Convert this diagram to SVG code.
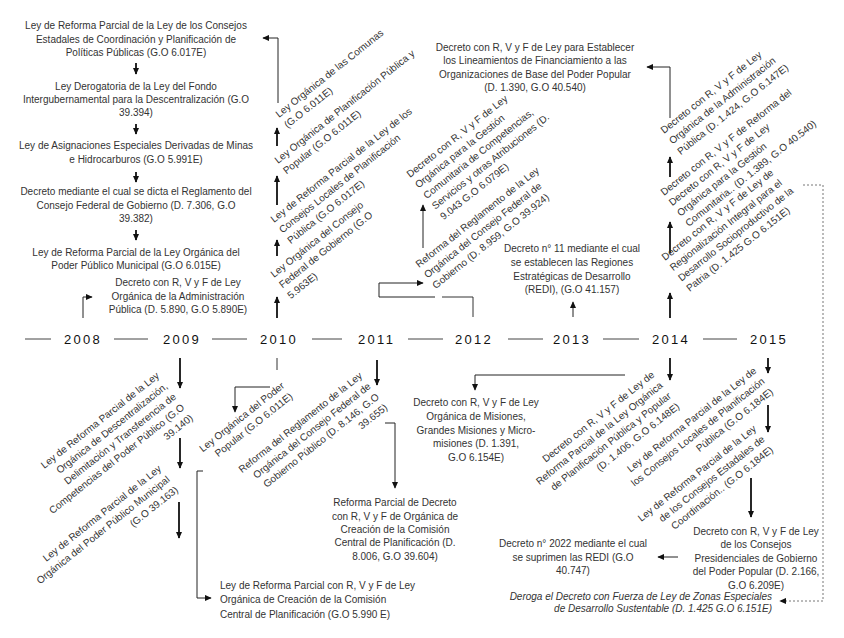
<svg xmlns="http://www.w3.org/2000/svg" width="844" height="638" viewBox="0 0 844 638">
<defs>
<style>
text{font-family:"Liberation Sans",Arial,sans-serif;font-size:10px;fill:#333}
.c{text-anchor:middle}
.e{text-anchor:end}
.it{font-style:italic}
.yr{font-size:13px;letter-spacing:2.3px;fill:#111}
.tl{stroke:#444;stroke-width:1}
.ln{stroke:#333;stroke-width:1;fill:none}
.ar{stroke:#111;stroke-width:1.8;fill:none;marker-end:url(#ah)}
.at{stroke:#222;stroke-width:1;fill:none;marker-end:url(#ah)}
.ds{stroke:#777;stroke-width:1;stroke-dasharray:2,2;fill:none;marker-end:url(#ah)}
</style>
<marker id="ah" viewBox="0 0 10 10" refX="9" refY="5" markerWidth="7" markerHeight="7" markerUnits="userSpaceOnUse" orient="auto"><path d="M0,0.5 L10,5 L0,9.5 z" fill="#111"/></marker>
</defs>

<g id="timeline">
<line class="tl" x1="25" y1="339" x2="51" y2="339"/>
<line class="tl" x1="114" y1="339" x2="148" y2="339"/>
<line class="tl" x1="212" y1="339" x2="247" y2="339"/>
<line class="tl" x1="312" y1="339" x2="342" y2="339"/>
<line class="tl" x1="408" y1="339" x2="443" y2="339"/>
<line class="tl" x1="508" y1="339" x2="543" y2="339"/>
<line class="tl" x1="603" y1="339" x2="639" y2="339"/>
<line class="tl" x1="703" y1="339" x2="737" y2="339"/>
<text class="yr" x="64" y="344">2008</text>
<text class="yr" x="163" y="344">2009</text>
<text class="yr" x="260" y="344">2010</text>
<text class="yr" x="358" y="344">2011</text>
<text class="yr" x="455" y="344">2012</text>
<text class="yr" x="553" y="344">2013</text>
<text class="yr" x="652" y="344">2014</text>
<text class="yr" x="750" y="344">2015</text>
</g>

<g id="connectors">
<line class="ar" x1="136" y1="63" x2="136" y2="74"/>
<line class="ar" x1="136" y1="124" x2="136" y2="134"/>
<line class="ar" x1="136" y1="172" x2="136" y2="182"/>
<line class="ar" x1="136" y1="230" x2="136" y2="240"/>
<path class="at" d="M83,318 V297 H92"/>
<line class="ar" x1="277" y1="146" x2="277" y2="128"/>
<line class="ar" x1="277" y1="205" x2="277" y2="176"/>
<line class="ar" x1="277" y1="256" x2="277" y2="240"/>
<line class="ar" x1="277" y1="318" x2="277" y2="297"/>
<path class="at" d="M278,103 V38 H263"/>
<path class="ln" d="M473,317 V297 H442"/>
<path class="at" d="M435,297 H379 V283 H423"/>
<line class="at" x1="423" y1="248" x2="423" y2="205"/>
<line class="at" x1="573" y1="317" x2="573" y2="302"/>
<line class="ar" x1="670" y1="318" x2="670" y2="293"/>
<line class="ar" x1="670" y1="253" x2="670" y2="222"/>
<line class="ar" x1="670" y1="177" x2="670" y2="157"/>
<path class="at" d="M670,118 V67 H647"/>
<path class="ds" d="M803,185 H823 V601 H780"/>
<line class="ar" x1="180" y1="358" x2="180" y2="388"/>
<line class="ar" x1="180" y1="438" x2="180" y2="468"/>
<line class="ar" x1="179" y1="502" x2="179" y2="538"/>
<path class="at" d="M203,471 H197 V598 H211"/>
<line class="ln" x1="277" y1="358" x2="277" y2="370"/>
<path class="at" d="M270,387 H235 V412"/>
<line class="ar" x1="377" y1="360" x2="377" y2="385"/>
<path class="at" d="M385,423 H395 V488"/>
<path class="at" d="M625,375 H475 V390"/>
<line class="ar" x1="670" y1="358" x2="670" y2="380"/>
<line class="ar" x1="768" y1="358" x2="768" y2="373"/>
<line class="ar" x1="768" y1="405" x2="768" y2="432"/>
<line class="ar" x1="751" y1="478" x2="751" y2="517"/>
<line class="at" x1="678" y1="557" x2="658" y2="557"/>
</g>

<g id="n2008a"><text class="c"><tspan x="136" y="29">Ley de Reforma Parcial de la Ley de los Consejos</tspan><tspan x="136" y="42.5">Estadales de Coordinación y Planificación de</tspan><tspan x="136" y="56">Políticas Públicas (G.O 6.017E)</tspan></text></g>
<g id="n2008b"><text class="c"><tspan x="136" y="89.5">Ley Derogatoria de la Ley del Fondo</tspan><tspan x="136" y="103">Intergubernamental para la Descentralización (G.O</tspan><tspan x="136" y="116">39.394)</tspan></text></g>
<g id="n2008c"><text class="c"><tspan x="136" y="149">Ley de Asignaciones Especiales Derivadas de Minas</tspan><tspan x="136" y="162.5">e Hidrocarburos (G.O 5.991E)</tspan></text></g>
<g id="n2008d"><text class="c"><tspan x="136" y="195">Decreto mediante el cual se dicta el Reglamento del</tspan><tspan x="136" y="208.5">Consejo Federal de Gobierno (D. 7.306, G.O</tspan><tspan x="136" y="221.5">39.382)</tspan></text></g>
<g id="n2008e"><text class="c"><tspan x="136" y="255.5">Ley de Reforma Parcial de la Ley Orgánica del</tspan><tspan x="136" y="268.5">Poder Público Municipal (G.O 6.015E)</tspan></text></g>
<g id="n2008f"><text class="c"><tspan x="178" y="286">Decreto con R, V y F de Ley</tspan><tspan x="178" y="300">Orgánica de la Administración</tspan><tspan x="178" y="313">Pública (D. 5.890, G.O 5.890E)</tspan></text></g>

<g id="n2010a"><text transform="translate(279,118) rotate(-38.5)"><tspan x="0" y="0">Ley Orgánica de las Comunas</tspan><tspan x="0" y="13.5">(G.O 6.011E)</tspan></text></g>
<g id="n2010b"><text transform="translate(278,164) rotate(-38.5)"><tspan x="0" y="0">Ley Orgánica de Planificación Pública y</tspan><tspan x="0" y="13.5">Popular (G.O 6.011E)</tspan></text></g>
<g id="n2010c"><text transform="translate(274,223) rotate(-38.5)"><tspan x="0" y="0">Ley de Reforma Parcial de la Ley de los</tspan><tspan x="0" y="13.5">Consejos Locales de Planificación</tspan><tspan x="0" y="27">Pública (G.O 6.017E)</tspan></text></g>
<g id="n2010d"><text transform="translate(274,278) rotate(-38.5)"><tspan x="0" y="0">Ley Orgánica del Consejo</tspan><tspan x="0" y="13.5">Federal de Gobierno (G.O</tspan><tspan x="0" y="27">5.963E)</tspan></text></g>

<g id="n2012a"><text class="c"><tspan x="535" y="50.5">Decreto con R, V y F de Ley para Establecer</tspan><tspan x="535" y="64">los Lineamientos de Financiamiento a las</tspan><tspan x="535" y="77.5">Organizaciones de Base del Poder Popular</tspan><tspan x="535" y="91">(D. 1.390, G.O 40.540)</tspan></text></g>
<g id="n2012b"><text transform="translate(410,178) rotate(-38.5)"><tspan x="0" y="0">Decreto con R, V y F de Ley</tspan><tspan x="0" y="13.5">Orgánica para la Gestión</tspan><tspan x="0" y="27">Comunitaria de Competencias,</tspan><tspan x="0" y="40.5">Servicios y otras Atribuciones (D.</tspan><tspan x="0" y="54">9.043 G.O 6.079E)</tspan></text></g>
<g id="n2012c"><text transform="translate(419,268) rotate(-38.5)"><tspan x="0" y="0">Reforma del Reglamento de la Ley</tspan><tspan x="0" y="13.5">Orgánica del Consejo Federal de</tspan><tspan x="0" y="27">Gobierno (D. 8.959, G.O 39.924)</tspan></text></g>
<g id="n2013"><text class="c"><tspan x="572" y="252">Decreto n° 11 mediante el cual</tspan><tspan x="572" y="266">se establecen las Regiones</tspan><tspan x="572" y="280">Estratégicas de Desarrollo</tspan><tspan x="572" y="293">(REDI), (G.O 41.157)</tspan></text></g>

<g id="n2014a"><text transform="translate(664,134) rotate(-38.5)"><tspan x="0" y="0">Decreto con R, V y F de Ley</tspan><tspan x="0" y="13.5">Orgánica de la Administración</tspan><tspan x="0" y="27">Pública (D. 1.424, G.O 6.147E)</tspan></text></g>
<g id="n2014b"><text transform="translate(664,196) rotate(-38.5)"><tspan x="0" y="0">Decreto con R, V y F de Reforma del</tspan><tspan x="0" y="13.2">Decreto con R, V y F de Ley</tspan><tspan x="0" y="26.4">Orgánica para la Gestión</tspan><tspan x="0" y="39.6">Comunitaria.. (D. 1.389, G.O 40.540)</tspan></text></g>
<g id="n2014c"><text transform="translate(665,261) rotate(-38.5)"><tspan x="0" y="0">Decreto con R, V y F de Ley de</tspan><tspan x="0" y="13.2">Regionalización Integral para el</tspan><tspan x="0" y="26.4">Desarrollo Socioproductivo de la</tspan><tspan x="0" y="39.6">Patria (D. 1.425 G.O 6.151E)</tspan></text></g>

<g id="n2009a"><text class="e" transform="translate(160,377) rotate(-38.5)"><tspan x="0" y="0">Ley de Reforma Parcial de la Ley</tspan><tspan x="0" y="13.5">Orgánica de Descentralización,</tspan><tspan x="0" y="27">Delimitación y Transferencia de</tspan><tspan x="0" y="40.5">Competencias del Poder Público (G.O</tspan><tspan x="0" y="54">39.140)</tspan></text></g>
<g id="n2009b"><text class="e" transform="translate(162,470) rotate(-38.5)"><tspan x="0" y="0">Ley de Reforma Parcial de la Ley</tspan><tspan x="0" y="13.5">Orgánica del Poder Público Municipal</tspan><tspan x="0" y="27">(G.O 39.163)</tspan></text></g>
<g id="n2010e"><text class="e" transform="translate(285,387) rotate(-38.5)"><tspan x="0" y="0">Ley Orgánica del Poder</tspan><tspan x="0" y="13.5">Popular (G.O 6.011E)</tspan></text></g>
<g id="n2010f"><text><tspan x="220" y="589">Ley de Reforma Parcial con R, V y F de Ley</tspan><tspan x="220" y="603">Orgánica de Creación de la Comisión</tspan><tspan x="220" y="617.5">Central de Planificación (G.O 5.990 E)</tspan></text></g>
<g id="n2011a"><text class="e" transform="translate(363,377) rotate(-38.5)"><tspan x="0" y="0">Reforma del Reglamento de la Ley</tspan><tspan x="0" y="13.5">Orgánica del Consejo Federal de</tspan><tspan x="0" y="27">Gobierno Público (D. 8.146, G.O</tspan><tspan x="0" y="40.5">39.655)</tspan></text></g>
<g id="n2011b"><text class="c"><tspan x="395" y="506">Reforma Parcial de Decreto</tspan><tspan x="395" y="519.5">con R, V y F de Orgánica de</tspan><tspan x="395" y="533">Creación de la Comisión</tspan><tspan x="395" y="546">Central de Planificación (D.</tspan><tspan x="395" y="559.5">8.006, G.O 39.604)</tspan></text></g>
<g id="n2012d"><text class="c"><tspan x="476" y="405.5">Decreto con R, V y F de Ley</tspan><tspan x="476" y="419.5">Orgánica de Misiones,</tspan><tspan x="476" y="433.5">Grandes Misiones y Micro-</tspan><tspan x="476" y="447">misiones (D. 1.391,</tspan><tspan x="476" y="460.5">G.O 6.154E)</tspan></text></g>
<g id="n2014d"><text class="e" transform="translate(655,376) rotate(-38.5)"><tspan x="0" y="0">Decreto con R, V y F de Ley de</tspan><tspan x="0" y="13.5">Reforma Parcial de la Ley Orgánica</tspan><tspan x="0" y="27">de Planificación Pública y Popular</tspan><tspan x="0" y="40.5">(D. 1.406, G.O 6.148E)</tspan></text></g>
<g id="n2014e"><text class="c"><tspan x="573" y="546.5">Decreto n° 2022 mediante el cual</tspan><tspan x="573" y="560.5">se suprimen las REDI (G.O</tspan><tspan x="573" y="574">40.747)</tspan></text></g>
<g id="n2015a"><text class="e" transform="translate(757,372) rotate(-38.5)"><tspan x="0" y="0">Ley de Reforma Parcial de la Ley de</tspan><tspan x="0" y="13.5">los Consejos Locales de Planificación</tspan><tspan x="0" y="27">Pública (G.O 6.184E)</tspan></text></g>
<g id="n2015b"><text class="e" transform="translate(757,430) rotate(-38.5)"><tspan x="0" y="0">Ley de Reforma Parcial de la Ley</tspan><tspan x="0" y="13.5">de los Consejos Estadales de</tspan><tspan x="0" y="27">Coordinación.. (G.O 6.184E)</tspan></text></g>
<g id="n2015c"><text class="c"><tspan x="756" y="534.5">Decreto con R, V y F de Ley</tspan><tspan x="756" y="548">de los Consejos</tspan><tspan x="756" y="561.5">Presidenciales de Gobierno</tspan><tspan x="756" y="575">del Poder Popular (D. 2.166,</tspan><tspan x="756" y="588.5">G.O 6.209E)</tspan></text></g>
<g id="n2015d"><text class="e it"><tspan x="772" y="599.5">Deroga el Decreto con Fuerza de Ley de Zonas Especiales</tspan><tspan x="772" y="612">de Desarrollo Sustentable (D. 1.425 G.O 6.151E)</tspan></text></g>
</svg>
